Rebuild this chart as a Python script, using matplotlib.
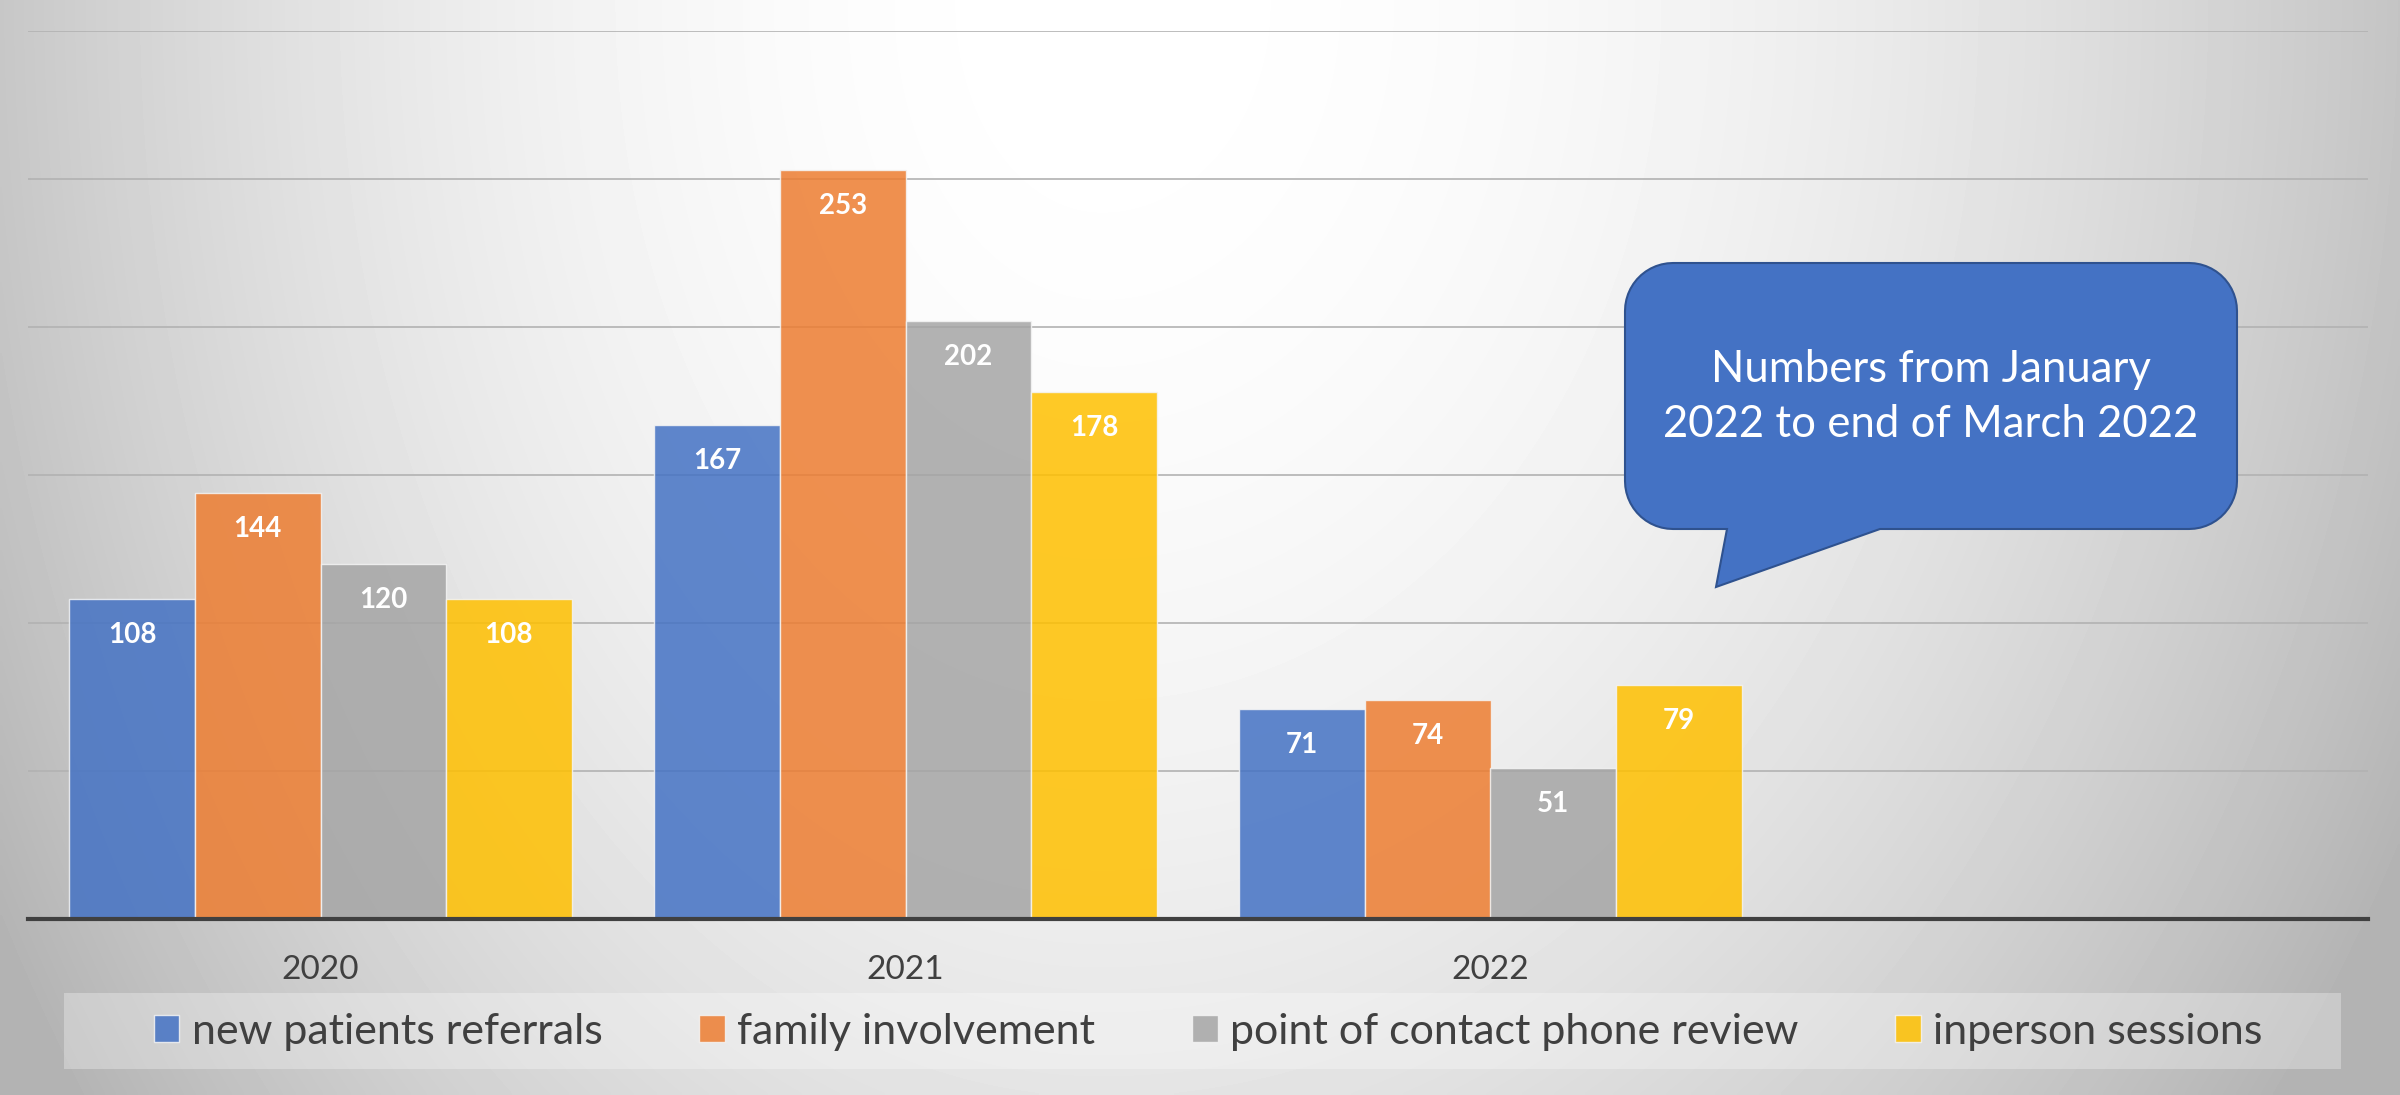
import numpy as np
import matplotlib.pyplot as plt
from matplotlib.patches import Polygon, Rectangle


YEARS = ["2020", "2021", "2022"]
SERIES = [
    "new patients referrals",
    "family involvement",
    "point of contact phone review",
    "inperson sessions",
]
REFERRALS = [108, 167, 71]
FAMILY = [144, 253, 74]
PHONE = [120, 202, 51]
INPERSON = [108, 178, 79]
COLORS = ["#4472C4", "#ED7D31", "#A5A5A5", "#FFC000"]
NOTE = "Numbers from January\n2022 to end of March 2022"

W, H = 2400, 1095
FONT = "Lato"
TEXT_COLOR = "#404040"


def fig_xy(x, y):
    # pixel position (origin top-left) -> figure fraction
    return x / W, 1 - y / H


def draw_background(fig):
    ax = fig.add_axes([0, 0, 1, 1], zorder=-10)
    ys, xs = np.mgrid[0:H:4, 0:W:4]
    dx = xs - 1100.0
    dx = np.where(dx < 0, dx * 1.15, dx)
    dy = ys * 0.8
    shade = 255 - 3.5e-5 * (dx ** 2 + dy ** 2)
    shade = np.clip(shade, 180, 255) / 255
    ax.imshow(shade, cmap="gray", vmin=0, vmax=1, extent=[0, 1, 0, 1],
              aspect="auto", interpolation="bilinear", origin="upper")
    ax.axis("off")


def draw_bars(ax):
    values = [REFERRALS, FAMILY, PHONE, INPERSON]
    x = np.arange(len(YEARS))
    width = 0.2147

    containers = []
    for i, (name, vals, color) in enumerate(zip(SERIES, values, COLORS)):
        bars = ax.bar(x + (i - 1.5) * width, vals, width, label=name,
                      color=color, alpha=0.85, edgecolor="#F4F4F4",
                      linewidth=1, zorder=2)
        labels = ax.bar_label(bars, padding=-26, color="white",
                              fontsize=20, fontweight="bold", family=FONT)
        for label in labels:
            label.set_va("center")
        containers.append(bars)

    ax.set_xlim(-0.5, 3.5)
    ax.set_ylim(0, 300)
    ax.set_xticks(x)
    ax.set_xticklabels(YEARS, fontsize=24, family=FONT, color=TEXT_COLOR)
    ax.set_yticks(np.arange(0, 301, 50))
    ax.set_yticklabels([])
    ax.tick_params(length=0)
    ax.tick_params(axis="x", pad=26)

    ax.set_axisbelow(True)
    ax.yaxis.grid(True, color="#B2B2B2", linewidth=1.2)
    for side in ["top", "left", "right"]:
        ax.spines[side].set_visible(False)
    ax.spines["bottom"].set_color(TEXT_COLOR)
    ax.spines["bottom"].set_linewidth(3)
    ax.spines["bottom"].set_zorder(3)
    ax.set_facecolor("none")

    return containers


def draw_legend(fig, containers):
    x0, y0 = fig_xy(64, 1069)
    box = Rectangle((x0, y0), 2277 / W, 76 / H, transform=fig.transFigure,
                    facecolor="white", alpha=0.3, edgecolor="none")
    fig.add_artist(box)

    legend = fig.legend(containers, SERIES, loc="center",
                        bbox_to_anchor=fig_xy(1208, 1032), ncol=4,
                        frameon=False, prop={"family": FONT, "size": 31},
                        handlelength=0.6, handleheight=0.6,
                        handletextpad=0.28, columnspacing=2.25)
    for text in legend.get_texts():
        text.set_color(TEXT_COLOR)


def draw_callout(fig):
    left, right, top, bottom, rad = 1625, 2237, 263, 529, 48

    def arc(cx, cy, a0, a1):
        angles = np.radians(np.linspace(a0, a1, 14))
        return [(cx + rad * np.cos(a), cy - rad * np.sin(a)) for a in angles]

    pts = []
    pts += arc(right - rad, top + rad, 90, 0)
    pts += arc(right - rad, bottom - rad, 0, -90)
    pts += [(1880, bottom), (1716, 587), (1727, bottom)]
    pts += arc(left + rad, bottom - rad, -90, -180)
    pts += arc(left + rad, top + rad, 180, 90)

    verts = [fig_xy(px, py) for px, py in pts]
    bubble = Polygon(verts, closed=True, transform=fig.transFigure,
                     facecolor="#4472C4", edgecolor="#2F528F", linewidth=1.5)
    fig.add_artist(bubble)

    tx, ty = fig_xy(1931, 397)
    fig.text(tx, ty, NOTE, ha="center", va="center", color="white",
             fontsize=31.5, family=FONT, linespacing=1.42)


def main():
    fig = plt.figure(figsize=(W / 100, H / 100), dpi=100)
    draw_background(fig)

    ax = fig.add_axes([28 / W, 176 / H, 2340 / W, 888 / H])
    containers = draw_bars(ax)
    draw_legend(fig, containers)
    draw_callout(fig)

    fig.savefig("out.png", dpi=100)


if __name__ == "__main__":
    main()
